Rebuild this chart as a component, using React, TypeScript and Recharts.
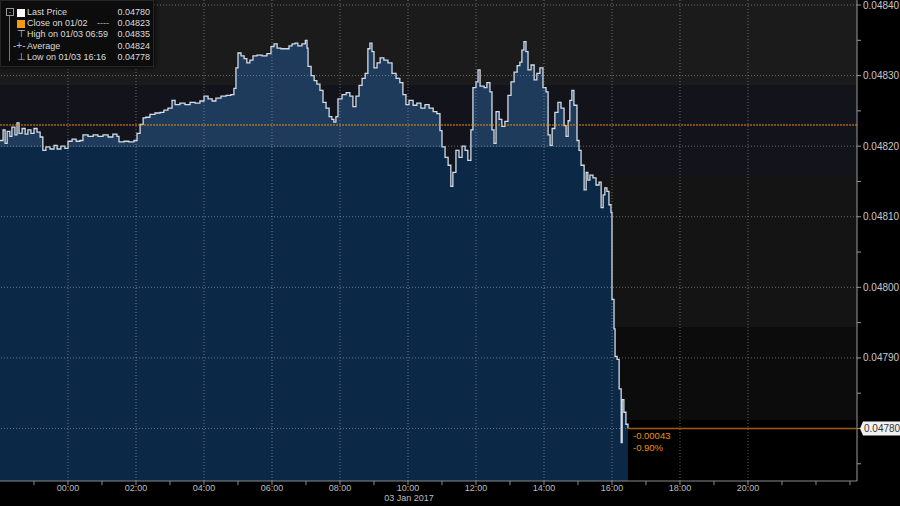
import React from "react";
import { ComposedChart, Area, XAxis, YAxis, ReferenceLine } from "recharts";

// hours relative to 03 Jan 2017 00:00 (negative = previous evening)
const hours = [
  -2.0, -1.91, -1.85, -1.79, -1.71, -1.65, -1.56, -1.5, -1.44, -1.35, -1.26, -1.18, -1.09, -1.0,
  -0.91, -0.82, -0.74, -0.65, -0.53, -0.41, -0.32, -0.21, -0.09, 0.0, 0.12, 0.24, 0.35, 0.44,
  0.59, 0.74, 0.88, 1.03, 1.18, 1.32, 1.44, 1.5, 1.65, 1.79, 1.94, 2.03, 2.12, 2.21, 2.29, 2.41,
  2.56, 2.71, 2.82, 2.94, 3.06, 3.15, 3.29, 3.44, 3.59, 3.74, 3.88, 4.0, 4.12, 4.24, 4.35, 4.5,
  4.65, 4.79, 4.88, 4.94, 5.0, 5.09, 5.18, 5.26, 5.35, 5.44, 5.56, 5.71, 5.85, 5.97, 6.06, 6.15,
  6.26, 6.38, 6.5, 6.59, 6.68, 6.76, 6.88, 6.98, 7.03, 7.06, 7.15, 7.24, 7.32, 7.41, 7.5, 7.59,
  7.68, 7.76, 7.82, 7.88, 7.94, 8.06, 8.18, 8.29, 8.38, 8.47, 8.56, 8.65, 8.74, 8.82, 8.88, 8.94,
  9.0, 9.09, 9.18, 9.29, 9.41, 9.53, 9.65, 9.76, 9.85, 9.94, 10.03, 10.15, 10.26, 10.38, 10.5,
  10.62, 10.74, 10.85, 10.94, 11.0, 11.09, 11.18, 11.26, 11.32, 11.41, 11.5, 11.59, 11.68, 11.76,
  11.85, 11.91, 12.0, 12.06, 12.12, 12.24, 12.32, 12.41, 12.47, 12.53, 12.59, 12.68, 12.76, 12.85,
  12.94, 13.03, 13.12, 13.21, 13.29, 13.35, 13.41, 13.47, 13.53, 13.62, 13.71, 13.79, 13.88,
  13.97, 14.06, 14.12, 14.18, 14.24, 14.32, 14.41, 14.5, 14.59, 14.65, 14.71, 14.76, 14.82,
  14.88, 14.97, 15.03, 15.09, 15.18, 15.24, 15.29, 15.35, 15.44, 15.53, 15.62, 15.68, 15.74,
  15.79, 15.85, 15.91, 15.97, 16.0, 16.06, 16.09, 16.15, 16.21, 16.27, 16.3, 16.35, 16.41, 16.47,
];

const prices = [
  0.048208, 0.048223, 0.048204, 0.048221, 0.048214, 0.048227, 0.048216, 0.048233, 0.048218,
  0.048225, 0.048217, 0.048223, 0.048218, 0.048225, 0.04822, 0.048213, 0.048194, 0.048199,
  0.048196, 0.048201, 0.048196, 0.0482, 0.048197, 0.048207, 0.04821, 0.048207, 0.048208,
  0.048216, 0.048214, 0.048216, 0.048214, 0.048216, 0.048213, 0.048217, 0.048214, 0.048206,
  0.048207, 0.048206, 0.048208, 0.048218, 0.048231, 0.04824, 0.048241, 0.048245, 0.048247,
  0.048248, 0.048251, 0.048254, 0.048265, 0.048259, 0.048261, 0.048259, 0.048262, 0.048261,
  0.048264, 0.048271, 0.048267, 0.048264, 0.048268, 0.048271, 0.048272, 0.048273, 0.048282,
  0.048311, 0.048332, 0.048328, 0.048324, 0.048318, 0.048322, 0.048328, 0.048329, 0.048328,
  0.048331, 0.048341, 0.048345, 0.048339, 0.048338, 0.048338, 0.048342, 0.048345, 0.048346,
  0.048342, 0.048345, 0.04835, 0.048339, 0.048313, 0.0483, 0.048293, 0.048288, 0.048279,
  0.048262, 0.048254, 0.048242, 0.048238, 0.048234, 0.048242, 0.048267, 0.048273, 0.048276,
  0.048271, 0.048256, 0.048271, 0.048286, 0.048296, 0.048303, 0.048338, 0.048346, 0.048334,
  0.048311, 0.048318, 0.048325, 0.048322, 0.048318, 0.048303, 0.048296, 0.04829, 0.048273,
  0.048259, 0.048265, 0.048258, 0.048261, 0.048254, 0.048259, 0.048254, 0.048249, 0.048246,
  0.048222, 0.048199, 0.048184, 0.048173, 0.048143, 0.048163, 0.048194, 0.048184, 0.0482,
  0.048194, 0.04818, 0.048223, 0.048283, 0.048291, 0.048308, 0.048285, 0.048283, 0.04829,
  0.048277, 0.048223, 0.048204, 0.048249, 0.048238, 0.048228, 0.048235, 0.048272, 0.048291,
  0.048305, 0.048314, 0.048319, 0.048336, 0.048348, 0.048334, 0.048308, 0.048315, 0.048294,
  0.048303, 0.048311, 0.048283, 0.048277, 0.048216, 0.048201, 0.048225, 0.048248, 0.048262,
  0.048254, 0.048229, 0.048214, 0.048236, 0.048265, 0.048279, 0.048258, 0.048208, 0.048194,
  0.048173, 0.048138, 0.048163, 0.048152, 0.048159, 0.048155, 0.048145, 0.048149, 0.048113,
  0.048131, 0.048141, 0.048136, 0.048117, 0.048106, 0.047983, 0.047941, 0.047902, 0.047898,
  0.047856, 0.04778, 0.047841, 0.047823, 0.047806, 0.0478,
];

const closePrev = 0.04823;
const lastPrice = 0.0478;
const lastHour = 16.47;
const changeText = ["-0.00043", "-0.90%"];

const hourTicks = Array.from({ length: 25 }, (_, i) => i - 1);
const gridHours = [0, 2, 4, 6, 8, 10, 12, 14, 16, 18, 20];
const gridPrices = [0.0478, 0.0479, 0.048, 0.0481, 0.0482, 0.0483, 0.0484];
const priceTicks = [
  0.04775, 0.0478, 0.04785, 0.0479, 0.04795, 0.048, 0.04805, 0.0481, 0.04815, 0.0482, 0.04825,
  0.0483, 0.04835, 0.0484,
];

const legendRows = [
  { label: "Last Price", value: "0.04780", icon: "last" },
  { label: "Close on 01/02", value: "0.04823", icon: "close" },
  { label: "High on 01/03 06:59", value: "0.04835", icon: "high" },
  { label: "Average", value: "0.04824", icon: "avg" },
  { label: "Low on 01/03 16:16", value: "0.04778", icon: "low" },
];

const data = hours.map((h, i) => ({ h, price: prices[i] }));

const FONT = "'Liberation Sans', Arial, sans-serif";

function PriceTick(props: any) {
  const { x, y, payload } = props;
  const v = payload.value;
  const major = gridPrices.some((g) => Math.abs(g - v) < 1e-9);
  if (!major) return null;
  const txt = v.toFixed(5);
  if (Math.abs(v - lastPrice) < 1e-9) {
    return (
      <g>
        <path
          d={`M${x - 3} ${y} L${x} ${y - 7} L${x + 37} ${y - 7} Q${x + 39} ${y - 7} ${x + 39} ${y - 5} L${x + 39} ${y + 5} Q${x + 39} ${y + 7} ${x + 37} ${y + 7} L${x} ${y + 7} Z`}
          fill="#f2f2f2"
        />
        <text x={x + 1} y={y + 3.5} fontSize={10} fill="#333" fontFamily={FONT}>
          {txt}
        </text>
      </g>
    );
  }
  return (
    <text x={x} y={y + 3.5} fontSize={10} fill="#c8c8c8" fontFamily={FONT}>
      {txt}
    </text>
  );
}

function hourLabel(h: number) {
  if (h < 0 || h > 20 || h % 2 !== 0) return "";
  return `${String(h).padStart(2, "0")}:00`;
}

function ChangeLabel(props: any) {
  const vb = props.viewBox || {};
  const x = (vb.x ?? 0) + 5;
  const y = vb.y ?? 0;
  return (
    <g fontFamily={FONT} fontSize={9.5} fill="#e8920e">
      <text x={x} y={y + 11}>{changeText[0]}</text>
      <text x={x} y={y + 23}>{changeText[1]}</text>
    </g>
  );
}

function LegendIcon({ kind }: { kind: string }) {
  if (kind === "last")
    return <span style={{ position: "absolute", left: 16, top: 2, width: 8, height: 8, background: "#fff" }} />;
  if (kind === "close")
    return <span style={{ position: "absolute", left: 16, top: 2, width: 8, height: 8, background: "#f39c12" }} />;
  const glyph = kind === "high" ? "⊤" : kind === "low" ? "⊥" : "-+-";
  return (
    <span style={{ position: "absolute", left: kind === "avg" ? 12 : 16, top: -1, fontSize: 10, color: "#bbb" }}>
      {glyph}
    </span>
  );
}

const gridStroke = "rgba(175,175,175,0.55)";

export default function App() {
  return (
    <div
      style={{
        position: "absolute",
        left: 0,
        top: 0,
        width: 900,
        height: 506,
        background: "#000",
        overflow: "hidden",
        fontFamily: FONT,
      }}
    >
      <div
        style={{
          position: "absolute",
          left: 0,
          top: 0,
          width: 857,
          height: 481,
          background:
            "linear-gradient(to bottom, #1b1b1b 0px, #1b1b1b 85px, #13141b 85px, #13141b 175px, #141414 175px, #141414 327px, #0c0c0c 327px, #0c0c0c 420px, #000 420px)",
        }}
      />
      <ComposedChart
        width={900}
        height={506}
        data={data}
        margin={{ top: 0, right: 0, bottom: 0, left: 0 }}
        style={{ position: "absolute", left: 0, top: 0 }}
      >
        <defs>
          <linearGradient id="fillGrad" gradientUnits="userSpaceOnUse" x1="0" y1="0" x2="0" y2="481">
            <stop offset="0" stopColor="#1f3b5c" />
            <stop offset="0.305" stopColor="#1f3b5c" />
            <stop offset="0.305" stopColor="#0b2947" />
            <stop offset="1" stopColor="#0b2947" />
          </linearGradient>
        </defs>
        <XAxis
          dataKey="h"
          type="number"
          domain={[-2, 23.206]}
          allowDataOverflow
          ticks={hourTicks}
          tickFormatter={hourLabel}
          interval={0}
          height={25}
          tickSize={4}
          tickMargin={0}
          stroke="#8a8a8a"
          tick={{ fill: "#bdbdbd", fontSize: 9, fontFamily: FONT }}
        />
        <YAxis
          orientation="right"
          type="number"
          domain={[0.0477256, 0.0484071]}
          allowDataOverflow
          ticks={priceTicks}
          interval={0}
          width={43}
          tickSize={4}
          tickMargin={2}
          stroke="#9a9a9a"
          tick={<PriceTick />}
        />
        <Area
          type="stepAfter"
          dataKey="price"
          stroke="#d2dbe6"
          strokeWidth={1.3}
          fill="url(#fillGrad)"
          fillOpacity={1}
          dot={false}
          activeDot={false}
          isAnimationActive={false}
        />
        {gridPrices.map((p) => (
          <ReferenceLine key={"gp" + p} y={p} stroke={gridStroke} strokeDasharray="1 2" zIndex={600} />
        ))}
        {gridHours.map((h) => (
          <ReferenceLine key={"gh" + h} x={h} stroke={gridStroke} strokeDasharray="1 2" zIndex={600} />
        ))}
        <ReferenceLine y={closePrev} stroke="#e8900c" strokeDasharray="2 1" strokeWidth={1} zIndex={650} />
        <ReferenceLine
          segment={[
            { x: lastHour, y: lastPrice },
            { x: 23.206, y: lastPrice },
          ]}
          stroke="#9a5e0e"
          strokeWidth={1.5}
          zIndex={650}
          label={<ChangeLabel />}
        />
      </ComposedChart>
      <div
        style={{
          position: "absolute",
          left: 0,
          top: 0,
          width: 152,
          height: 65,
          background: "#0c0c0c",
          border: "1px solid #262626",
          boxShadow: "0 0 5px #000",
          fontSize: 9,
          lineHeight: "11px",
          color: "#dcdcdc",
        }}
      >
        <span
          style={{
            position: "absolute",
            left: 5,
            top: 7,
            width: 6,
            height: 6,
            border: "1px solid #999",
            fontSize: 7,
            lineHeight: "6px",
            textAlign: "center",
            color: "#999",
          }}
        >
          -
        </span>
        <span style={{ position: "absolute", left: 8, top: 15, width: 1, height: 45, background: "#777" }} />
        {legendRows.map((r, i) => (
          <div key={r.label} style={{ position: "absolute", left: 0, top: 6 + i * 11.2, width: 152, height: 11 }}>
            <LegendIcon kind={r.icon} />
            <span style={{ position: "absolute", left: 26, top: 0, whiteSpace: "nowrap" }}>{r.label}</span>
            {r.icon === "close" && (
              <span style={{ position: "absolute", left: 96, top: 0, color: "#bbb" }}>----</span>
            )}
            <span style={{ position: "absolute", right: 3, top: 0 }}>{r.value}</span>
          </div>
        ))}
      </div>
      <div
        style={{
          position: "absolute",
          left: 359,
          top: 494,
          width: 100,
          textAlign: "center",
          fontSize: 9,
          lineHeight: "9px",
          color: "#bdbdbd",
        }}
      >
        03 Jan 2017
      </div>
    </div>
  );
}
